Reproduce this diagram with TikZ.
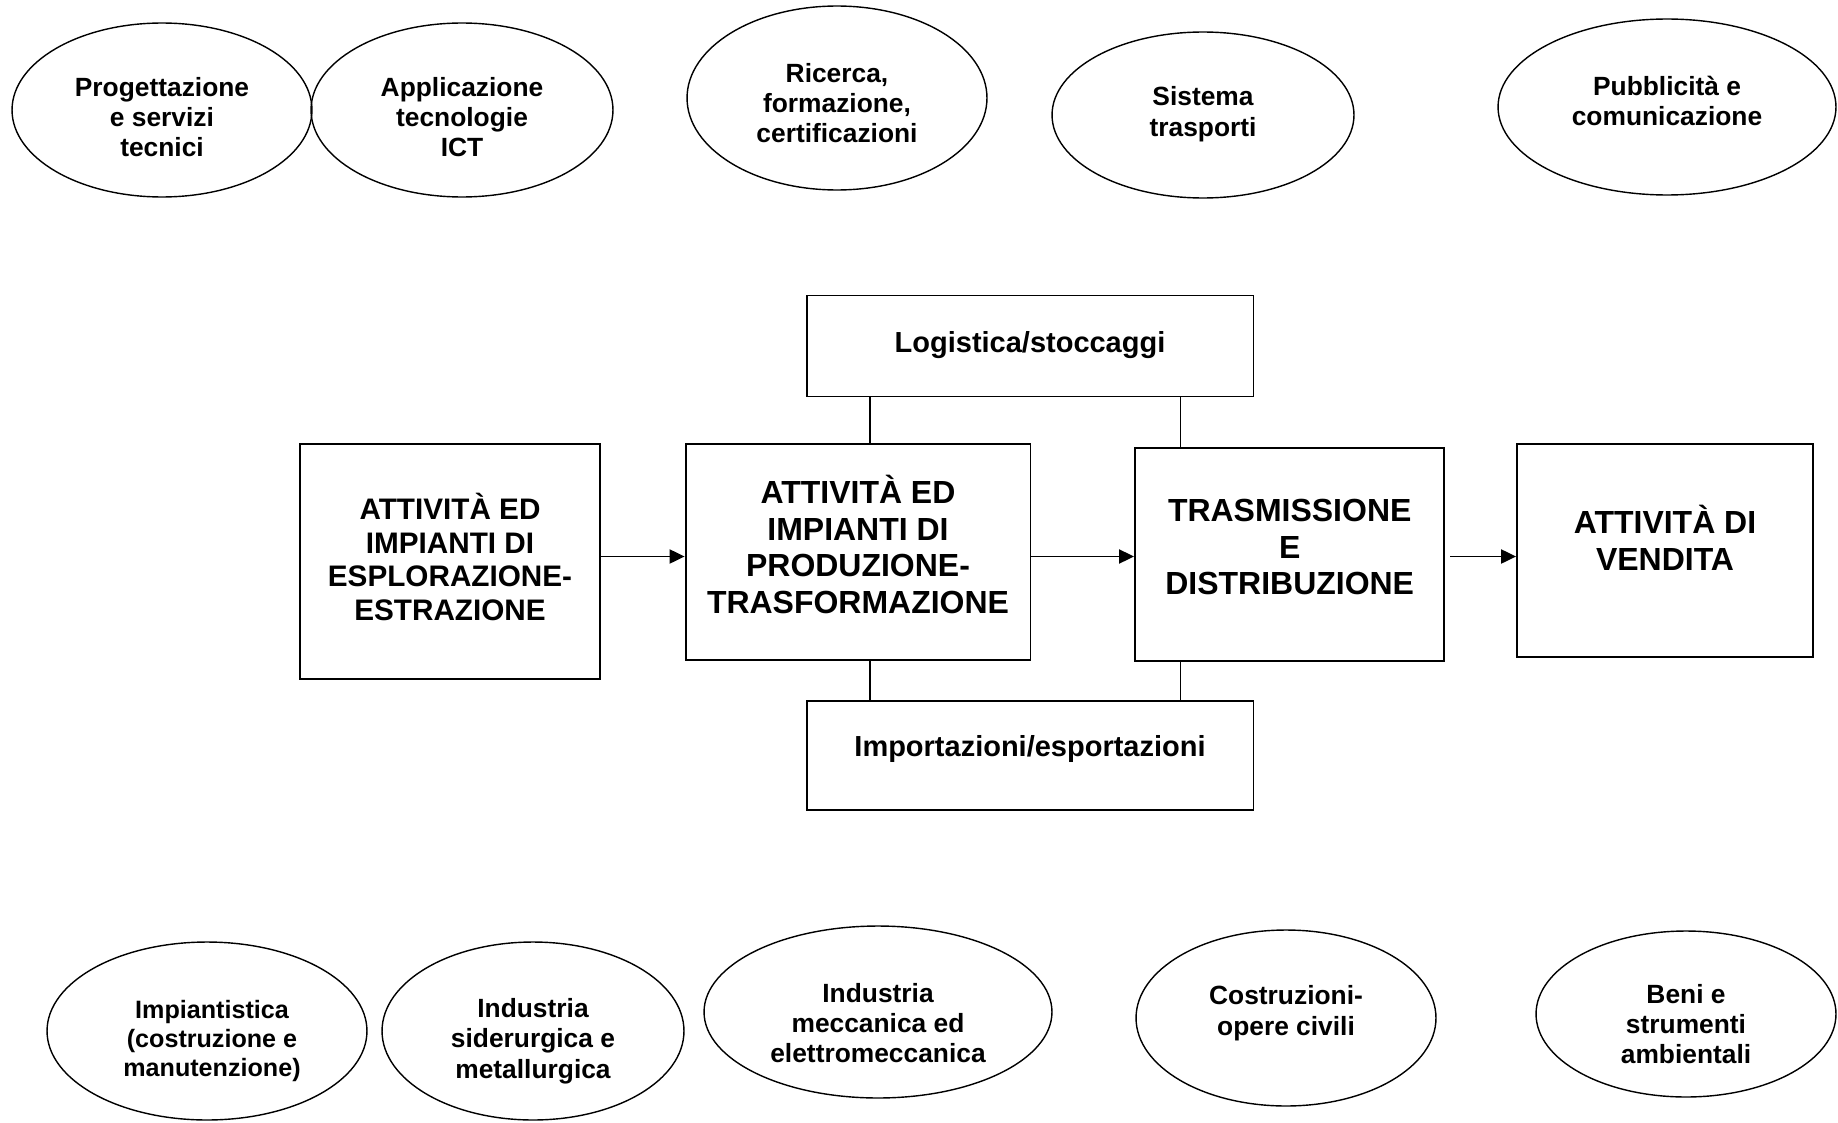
\documentclass[tikz,border=0pt]{standalone}
\usepackage{fontspec}
\setmainfont{Liberation Sans}
\usetikzlibrary{shapes.geometric, arrows.meta}
\tikzset{
 oval/.style={ellipse, draw, line width=0.8pt, inner sep=0pt},
 ovaltext/.style={align=center, inner sep=0pt, font=\bfseries\fontsize{15}{17.3}\selectfont},
 box/.style={draw, line width=1.1pt, inner sep=0pt},
 boxtext/.style={align=center, inner sep=0pt, font=\bfseries\fontsize{18.2}{20.8}\selectfont},
 lefttext/.style={align=center, inner sep=0pt, font=\bfseries\fontsize{16.9}{19.1}\selectfont},
 smalltext/.style={align=center, inner sep=0pt, font=\bfseries\fontsize{16.5}{19}\selectfont},
 conn/.style={line width=1pt},
 arr/.style={line width=1pt, -{Triangle[length=8.5pt,width=8pt]}},
}
\begin{document}
\begin{tikzpicture}[x={(0.02cm,0)}, y={(0,-0.02cm)}]
\useasboundingbox (0,0) rectangle (1838,1122);
% top ellipses
\node[oval, minimum width=6cm, minimum height=3.48cm] (e1) at (162,110) {};
\node[ovaltext] (e1t) at (162,117) {Progettazione\\e servizi\\tecnici};
\node[oval, minimum width=6.04cm, minimum height=3.48cm] (e2) at (462,110) {};
\node[ovaltext] (e2t) at (462,117) {Applicazione\\tecnologie\\ICT};
\node[oval, minimum width=6cm, minimum height=3.68cm] (e3) at (837,98) {};
\node[ovaltext] (e3t) at (837,103) {Ricerca,\\formazione,\\certificazioni};
\node[oval, minimum width=6.04cm, minimum height=3.32cm] (e4) at (1203,115) {};
\node[ovaltext] (e4t) at (1203,114) {Sistema\\trasporti};
\node[oval, minimum width=6.76cm, minimum height=3.52cm] (e5) at (1667,107) {};
\node[ovaltext] (e5t) at (1667,101) {Pubblicità e\\comunicazione};
% bottom ellipses
\node[oval, minimum width=6.4cm, minimum height=3.56cm] (b1) at (207,1031) {};
\node[ovaltext, font=\bfseries\fontsize{14.3}{16.5}\selectfont] (b1t) at (212,1041) {Impiantistica\\(costruzione e\\manutenzione)};
\node[oval, minimum width=6.04cm, minimum height=3.56cm] (b2) at (533,1031) {};
\node[ovaltext] (b2t) at (533,1041) {Industria\\siderurgica e\\metallurgica};
\node[oval, minimum width=6.96cm, minimum height=3.44cm] (b3) at (878,1012) {};
\node[ovaltext] (b3t) at (878,1023) {Industria\\meccanica ed\\elettromeccanica};
\node[oval, minimum width=6cm, minimum height=3.52cm] (b4) at (1286,1018) {};
\node[ovaltext] (b4t) at (1286,1013) {Costruzioni-\\opere civili};
\node[oval, minimum width=6cm, minimum height=3.32cm] (b5) at (1686,1014) {};
\node[ovaltext] (b5t) at (1686,1024) {Beni e\\strumenti\\ambientali};
% boxes
\node[box, minimum width=8.94cm, minimum height=2.02cm] (log) at (1030,346) {};
\node[smalltext] (logt) at (1030,345) {Logistica/stoccaggi};
\node[box, minimum width=8.94cm, minimum height=2.18cm] (imp) at (1030,755.5) {};
\node[smalltext] (impt) at (1030,749) {Importazioni/esportazioni};
\node[box, minimum width=6cm, minimum height=4.7cm] (left) at (450,561.5) {};
\node[lefttext] (leftt) at (450,557) {ATTIVITÀ ED\\IMPIANTI DI\\ESPLORAZIONE-\\ESTRAZIONE};
\node[box, minimum width=6.9cm, minimum height=4.32cm] (mid) at (858,552) {};
\node[boxtext] (midt) at (858,544.5) {ATTIVITÀ ED\\IMPIANTI DI\\PRODUZIONE-\\TRASFORMAZIONE};
\node[box, minimum width=6.19cm, minimum height=4.26cm] (tr) at (1289.7,554.5) {};
\node[boxtext] (trt) at (1289.7,547) {TRASMISSIONE\\E\\DISTRIBUZIONE};
\node[box, minimum width=5.92cm, minimum height=4.26cm] (ven) at (1665,550.5) {};
\node[boxtext] (vent) at (1665,538) {ATTIVITÀ DI\\VENDITA};
% helper coordinates
\coordinate (ay) at (0,556.5);
\coordinate (xa) at (870,0);
\coordinate (xb) at (1180.5,0);
% arrows
\draw[arr] (left.east |- ay) -- (mid.west |- ay);
\draw[arr] (mid.east |- ay) -- (tr.west |- ay);
\draw[arr, shorten <=2.8pt] (tr.east |- ay) -- (ven.west |- ay);
% vertical connectors
\draw[conn] (log.south -| xa) -- (mid.north -| xa);
\draw[conn] (log.south -| xb) -- (tr.north -| xb);
\draw[conn] (mid.south -| xa) -- (imp.north -| xa);
\draw[conn] (tr.south -| xb) -- (imp.north -| xb);
\end{tikzpicture}
\end{document}
